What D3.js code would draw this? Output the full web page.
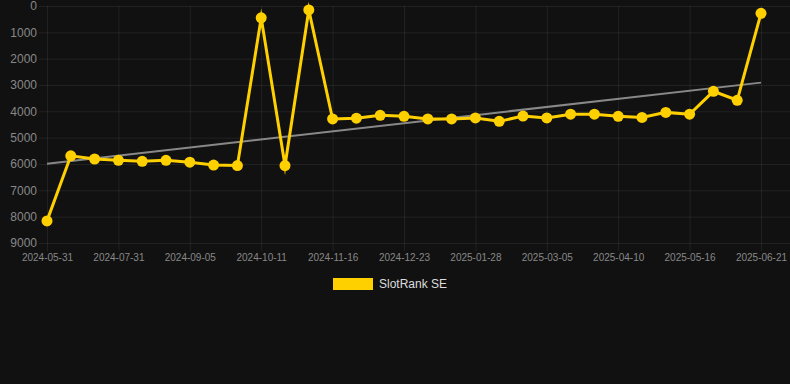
<!DOCTYPE html>
<html lang="en">
<head>
    <meta charset="UTF-8">
    <title>SlotRank SE</title>
    <script src="https://d3js.org/d3.v7.min.js"></script>
    <style>
        html, body { margin: 0; padding: 0; background: #111111; }
        svg { display: block; font-family: "Liberation Sans", Arial, sans-serif; }
    </style>
</head>
<body>
<svg id="chart" width="790" height="384"></svg>

<script>
    // dates of each sample (category axis)
    const dates = [
        "2024-05-31", "2024-06-20", "2024-07-10", "2024-07-31", "2024-08-12", "2024-08-24",
        "2024-09-05", "2024-09-17", "2024-09-29", "2024-10-11", "2024-10-23", "2024-11-04",
        "2024-11-16", "2024-11-28", "2024-12-11", "2024-12-23", "2025-01-04", "2025-01-16",
        "2025-01-28", "2025-02-09", "2025-02-21", "2025-03-05", "2025-03-17", "2025-03-29",
        "2025-04-10", "2025-04-22", "2025-05-04", "2025-05-16", "2025-05-28", "2025-06-09",
        "2025-06-21"
    ];
    // rank values (lower = better, axis reversed)
    const ranks = [
        8160, 5690, 5810, 5860, 5900, 5860, 5930, 6040, 6060, 450, 6060, 150,
        4290, 4260, 4150, 4190, 4290, 4290, 4250, 4380, 4180, 4250, 4110, 4110,
        4190, 4230, 4040, 4110, 3240, 3580, 280
    ];
    const xTickLabels = dates.filter((d, i) => i % 3 === 0);
    const yTicks = [0, 1000, 2000, 3000, 4000, 5000, 6000, 7000, 8000, 9000];
    // trend line, value at first and last date
    const trend = [5990, 2910];
    const seriesName = "SlotRank SE";

    const width = 790, height = 384;
    const gold = "#ffd000";
    const svg = d3.select("#chart");

    const xScale = d3.scalePoint()
        .domain(dates)
        .range([47, 761]);

    const yScale = d3.scaleLinear()
        .domain([0, 9000])
        .range([6, 243]);

    // grid
    svg.append("g")
        .selectAll("line")
        .data(yTicks)
        .enter()
        .append("line")
        .attr("x1", 39)
        .attr("x2", width)
        .attr("y1", d => yScale(d) + 0.5)
        .attr("y2", d => yScale(d) + 0.5)
        .attr("stroke", "rgba(255,255,255,0.07)");

    svg.append("g")
        .selectAll("line")
        .data(xTickLabels)
        .enter()
        .append("line")
        .attr("x1", d => xScale(d) + 0.5)
        .attr("x2", d => xScale(d) + 0.5)
        .attr("y1", yScale(0))
        .attr("y2", yScale(9000) + 8)
        .attr("stroke", "rgba(255,255,255,0.07)");

    // axes
    const yAxis = d3.axisLeft(yScale)
        .tickValues(yTicks)
        .tickFormat(d3.format("d"))
        .tickSize(0)
        .tickPadding(0);
    svg.append("g")
        .attr("transform", "translate(37,0)")
        .call(yAxis)
        .call(g => g.select(".domain").remove())
        .selectAll("text")
        .attr("fill", "#888")
        .style("font-size", "12px");

    const xAxis = d3.axisBottom(xScale).tickValues(xTickLabels).tickSize(0).tickPadding(0);
    svg.append("g")
        .attr("transform", `translate(0,${yScale(9000) + 11})`)
        .call(xAxis)
        .call(g => g.select(".domain").remove())
        .selectAll("text")
        .attr("fill", "#888")
        .style("font-size", "10px");

    // trend line
    svg.append("line")
        .attr("x1", xScale(dates[0]))
        .attr("x2", xScale(dates[dates.length - 1]))
        .attr("y1", yScale(trend[0]))
        .attr("y2", yScale(trend[1]))
        .attr("stroke", "#888")
        .attr("stroke-width", 2);

    const line = d3.line()
        .x((d, i) => xScale(dates[i]))
        .y(d => yScale(d));

    svg.append("path")
        .datum(ranks)
        .attr("fill", "none")
        .attr("stroke", gold)
        .attr("stroke-width", 3)
        .attr("stroke-linejoin", "miter")
        .attr("stroke-miterlimit", 10)
        .attr("d", line);

    svg.selectAll("circle.pt")
        .data(ranks)
        .enter()
        .append("circle")
        .attr("class", "pt")
        .attr("cx", (d, i) => xScale(dates[i]))
        .attr("cy", d => yScale(d))
        .attr("r", 5.5)
        .attr("fill", gold);

    // legend
    svg.append("rect")
        .attr("x", 333)
        .attr("y", 278)
        .attr("width", 40)
        .attr("height", 12)
        .attr("fill", gold);

    svg.append("text")
        .attr("x", 379)
        .attr("y", 284)
        .attr("dy", "0.35em")
        .attr("fill", "#ddd")
        .style("font-size", "12px")
        .text(seriesName);
</script>
</body>
</html>
